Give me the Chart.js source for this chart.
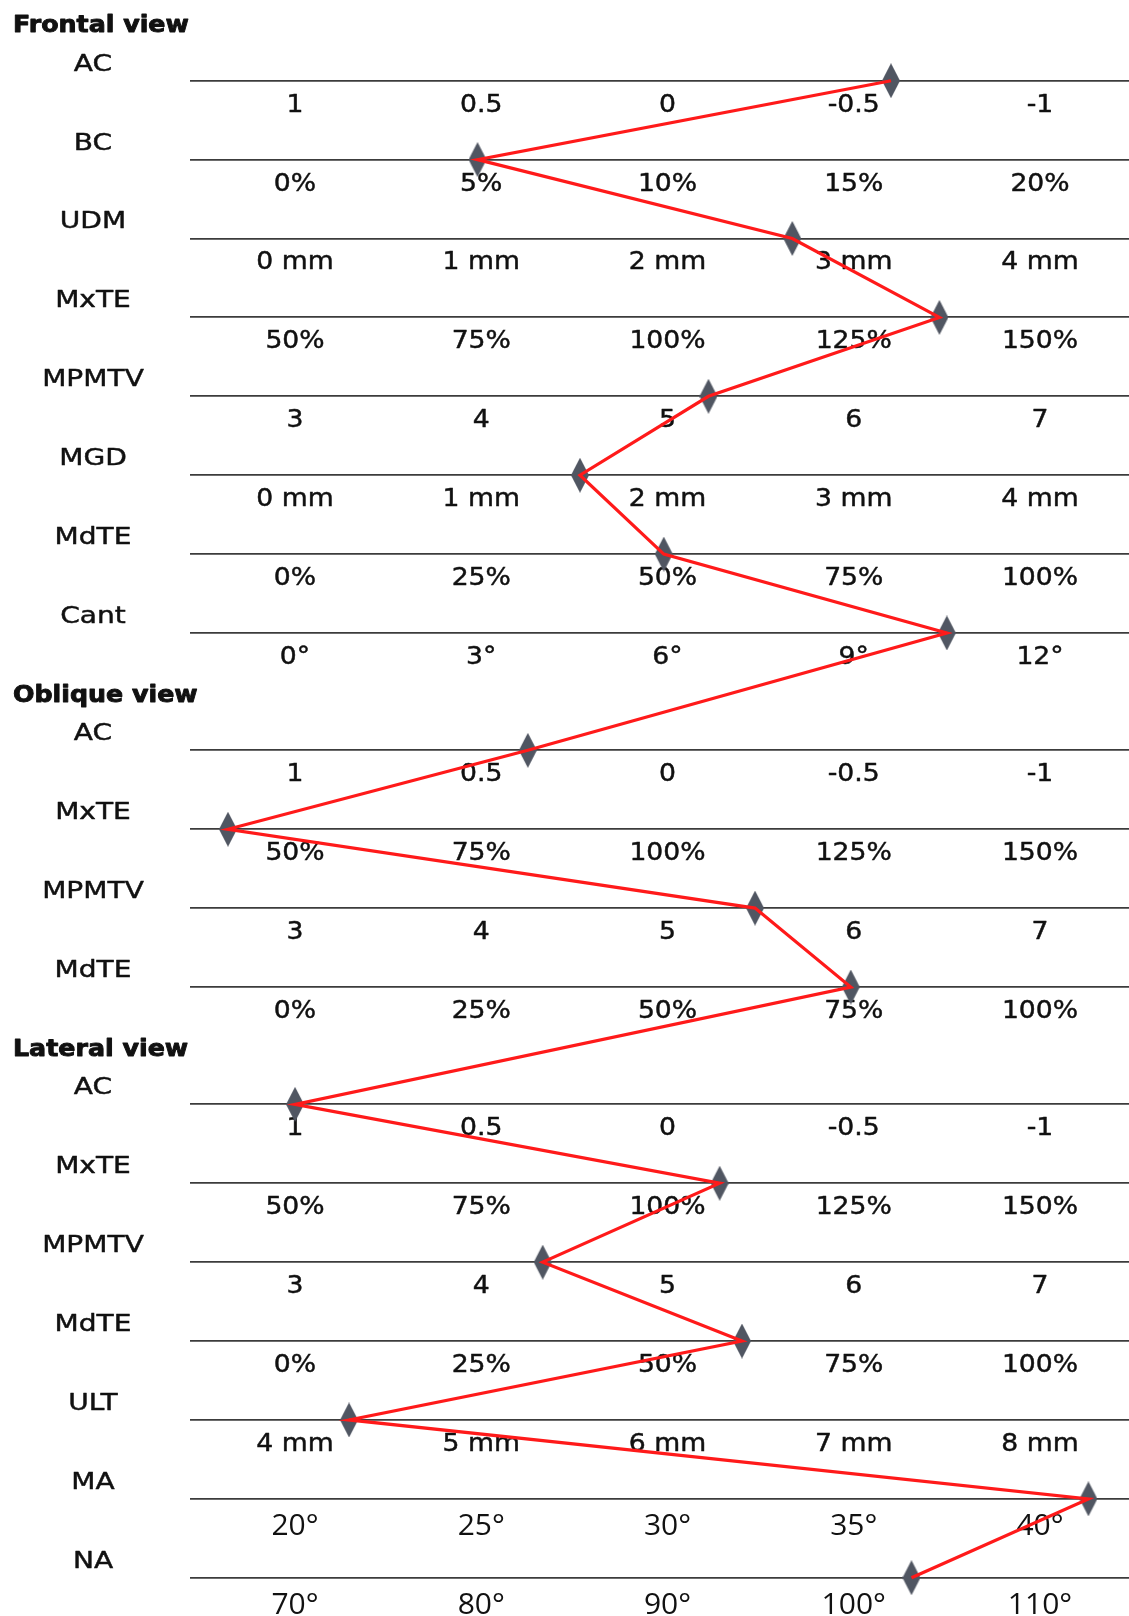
<!DOCTYPE html>
<html>
<head>
<meta charset="utf-8">
<script src="https://cdn.jsdelivr.net/npm/chart.js@4.4.1/dist/chart.umd.min.js"></script>
<style>
  html, body { margin: 0; padding: 0; background: #fff; overflow: hidden; }
  #wrap { width: 1129px; height: 1616px; position: relative; }
</style>
</head>
<body>
<div id="wrap"><canvas id="profileChart"></canvas></div>
<script>
// each measure has its own printed scale, 5 ticks from left to right
const measures   = ['AC', 'BC', 'UDM', 'MxTE', 'MPMTV', 'MGD', 'MdTE', 'Cant', 'ULT', 'MA', 'NA'];
const scaleStart = [1, 0, 0, 50, 3, 0, 0, 0, 4, 20, 70];
const scaleEnd   = [-1, 20, 4, 150, 7, 4, 100, 12, 8, 40, 110];
const tickLabels = [
  ['1', '0.5', '0', '-0.5', '-1'],
  ['0%', '5%', '10%', '15%', '20%'],
  ['0 mm', '1 mm', '2 mm', '3 mm', '4 mm'],
  ['50%', '75%', '100%', '125%', '150%'],
  ['3', '4', '5', '6', '7'],
  ['0 mm', '1 mm', '2 mm', '3 mm', '4 mm'],
  ['0%', '25%', '50%', '75%', '100%'],
  ['0°', '3°', '6°', '9°', '12°'],
  ['4 mm', '5 mm', '6 mm', '7 mm', '8 mm'],
  ['20°', '25°', '30°', '35°', '40°'],
  ['70°', '80°', '90°', '100°', '110°']
];

const views = ['Frontal view', 'Oblique view', 'Lateral view'];

const frontalRows   = ['AC', 'BC', 'UDM', 'MxTE', 'MPMTV', 'MGD', 'MdTE', 'Cant'];
const frontalValues = [-0.6, 4.9, 2.67, 136.5, 5.22, 1.53, 49.5, 10.5];

const obliqueRows   = ['AC', 'MxTE', 'MPMTV', 'MdTE'];
const obliqueValues = [0.375, 41, 5.47, 74.6];

const lateralRows   = ['AC', 'MxTE', 'MPMTV', 'MdTE', 'ULT', 'MA', 'NA'];
const lateralValues = [1.0, 107, 4.33, 60, 4.29, 41.3, 103.1];

// extra space (in rows) before each view heading
const GROUP_GAP = 0.487;

let rows = [];
let k = 0;
[[frontalRows, frontalValues], [obliqueRows, obliqueValues], [lateralRows, lateralValues]].forEach((pair, g) => {
  pair[0].forEach((name, i) => {
    const m = measures.indexOf(name);
    const v = pair[1][i];
    rows.push({
      name: name,
      m: m,
      g: g,
      first: i === 0,
      y: k + g * GROUP_GAP,
      x: (v - scaleStart[m]) / (scaleEnd[m] - scaleStart[m]) * 4
    });
    k++;
  });
});

// tall grey diamond marker
const diamond = document.createElement('canvas');
diamond.width = 18;
diamond.height = 35;
let dctx = diamond.getContext('2d');
dctx.fillStyle = '#505662';
dctx.beginPath();
dctx.moveTo(9, 0);
dctx.lineTo(18, 17.5);
dctx.lineTo(9, 35);
dctx.lineTo(0, 17.5);
dctx.closePath();
dctx.fill();

function stretched(ctx, text, x, y, sx, align, weight) {
  ctx.save();
  ctx.translate(x, y);
  ctx.scale(sx, 1);
  ctx.textAlign = align;
  ctx.fillText(text, 0, 0);
  if (weight) {
    ctx.lineWidth = weight;
    ctx.strokeText(text, 0, 0);
  }
  ctx.restore();
}

const labelPlugin = {
  id: 'rowLabels',
  beforeDatasetsDraw(chart) {
    const ctx = chart.ctx;
    const xs = chart.scales.x;
    const ys = chart.scales.y;
    ctx.save();
    ctx.fillStyle = '#111';
    ctx.strokeStyle = '#111';
    ctx.lineJoin = 'round';
    ctx.textBaseline = 'alphabetic';
    rows.forEach(r => {
      const py = ys.getPixelForValue(r.y);
      if (r.first) {
        ctx.font = 'bold 23px "DejaVu Sans"';
        stretched(ctx, views[r.g], 13, py - 48.7, 1.1, 'left', 0.9);
      }
      ctx.font = '23px "DejaVu Sans"';
      stretched(ctx, r.name, 93, py - 10, 1.22, 'center', 0.45);
      const wide = r.name === 'MA' || r.name === 'NA';
      tickLabels[r.m].forEach((t, i) => {
        const px = xs.getPixelForValue(i);
        if (wide) {
          ctx.font = '30px "Open Sans"';
          stretched(ctx, t, px, py + 36, 1, 'center', 0);
        } else {
          ctx.font = '24px "DejaVu Sans"';
          stretched(ctx, t, px, py + 31, 1.11, 'center', 0.45);
        }
      });
    });
    ctx.restore();
  }
};

const points = rows.map(r => ({ x: r.x, y: r.y }));

let chart = new Chart(document.getElementById('profileChart'), {
  type: 'line',
  data: {
    datasets: [
      {
        data: points,
        borderColor: '#ff1a1a',
        borderWidth: 3.2,
        pointRadius: 0,
        tension: 0,
        order: 0,
        clip: false
      },
      {
        data: points,
        showLine: false,
        pointStyle: diamond,
        pointRadius: 9,
        order: 1,
        clip: false
      }
    ]
  },
  options: {
    responsive: true,
    maintainAspectRatio: false,
    animation: false,
    events: [],
    layout: { autoPadding: false, padding: { left: 190, right: 0, top: 0, bottom: 0 } },
    plugins: {
      legend: { display: false },
      tooltip: { enabled: false }
    },
    scales: {
      x: {
        type: 'linear',
        display: false,
        min: -0.5638,
        max: 4.4779
      },
      y: {
        type: 'linear',
        reverse: true,
        min: -1.0228,
        max: 19.4588,
        afterBuildTicks: axis => {
          axis.ticks = rows.map(r => ({ value: r.y }));
        },
        ticks: { display: false },
        grid: { color: '#3c3c3c', lineWidth: 1.8, drawTicks: false },
        border: { display: false }
      }
    }
  },
  plugins: [labelPlugin]
});
</script>
</body>
</html>
